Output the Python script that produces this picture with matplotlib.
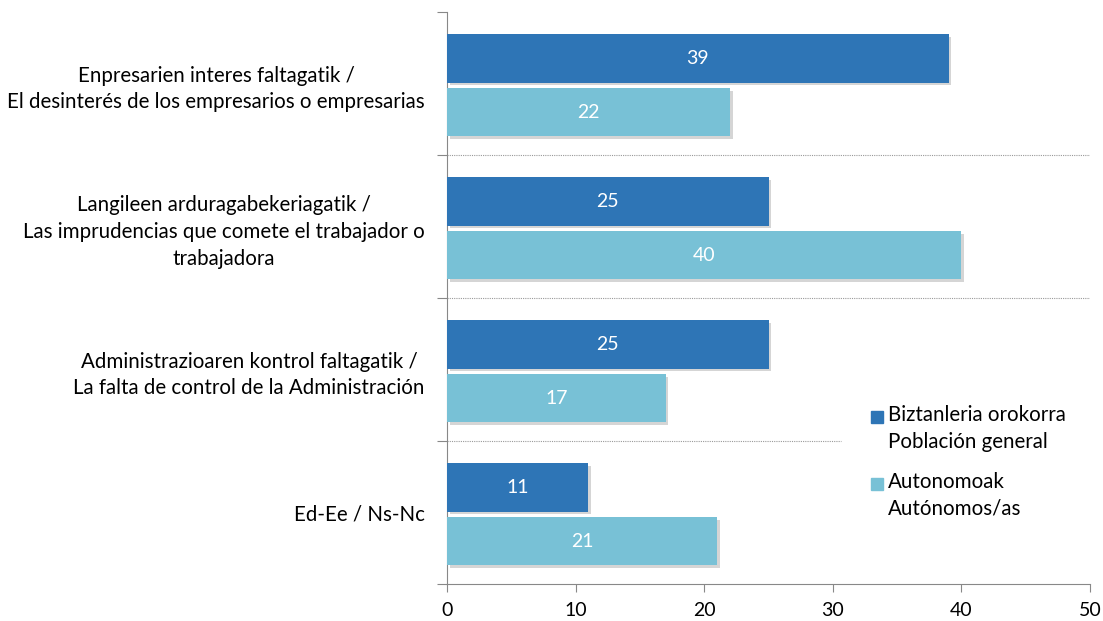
import matplotlib
matplotlib.use('Agg')
import matplotlib.pyplot as plt
import matplotlib.patheffects as pe
from matplotlib.patches import Rectangle
import numpy as np

plt.rcParams['font.family'] = ['Lato', 'DejaVu Sans']

# data
categories = [
    'Enpresarien interes faltagatik /\nEl desinterés de los empresarios o empresarias',
    'Langileen arduragabekeriagatik /\nLas imprudencias que comete el trabajador o\ntrabajadora',
    'Administrazioaren kontrol faltagatik /\nLa falta de control de la Administración',
    'Ed-Ee / Ns-Nc',
]
general = [39, 25, 25, 11]
autonomos = [22, 40, 17, 21]
series_names = ['Biztanleria orokorra\nPoblación general', 'Autonomoak\nAutónomos/as']
colors = ['#2E75B6', '#78C1D6']
xticks = [0, 10, 20, 30, 40, 50]

fig = plt.figure(figsize=(11.03, 6.21), dpi=100)
ax = fig.add_axes([447/1103, 1-584/621, 643/1103, 572/621])

y = np.arange(len(categories))
shadow = [pe.SimplePatchShadow(offset=(2, -2), shadow_rgbFace='#888888', alpha=0.35), pe.Normal()]

b1 = ax.barh(y - 0.175, general, height=0.338, color=colors[0], zorder=3)
b2 = ax.barh(y + 0.2, autonomos, height=0.338, color=colors[1], zorder=3)
for bars in (b1, b2):
    for b in bars:
        b.set_path_effects(shadow)
    ax.bar_label(bars, label_type='center', color='white', fontsize=14)

ax.set_xlim(0, 50)
ax.set_ylim(len(categories) - 0.5, -0.5)

# dotted separators between groups
ax.hlines([0.5, 1.5], 0, 50, colors='#999999', linestyles=(0, (1, 1)), linewidth=0.8, zorder=1)
ax.hlines([2.5], 0, 30.6, colors='#999999', linestyles=(0, (1, 1)), linewidth=0.8, zorder=1)

ax.set_xticks(xticks)
ax.tick_params(axis='x', length=6, color='#888888', labelsize=14, pad=7)
ax.set_yticks(np.arange(-0.5, len(categories)), labels=[''] * (len(categories) + 1))
ax.set_yticks(y, labels=categories, minor=True)
ax.tick_params(axis='y', which='major', length=7, color='#888888')
ax.tick_params(axis='y', which='minor', length=0, labelsize=14.8, pad=16)
for lab in ax.get_yticklabels(minor=True):
    lab.set_multialignment('center')
    lab.set_linespacing(1.42)

for s in ['top', 'right']:
    ax.spines[s].set_visible(False)
for s in ['left', 'bottom']:
    ax.spines[s].set_color('#888888')

# legend
for i, (name, c) in enumerate(zip(series_names, colors)):
    top = [411, 478][i]
    fig.patches.append(Rectangle((871/1103, 1-(top+12)/621), 12/1103, 12/621,
                                 transform=fig.transFigure, color=c))
    fig.text(888/1103, 1-(top-6)/621, name, fontsize=14.8, va='top', ha='left', linespacing=1.42)

fig.savefig('out.png', dpi=100)
